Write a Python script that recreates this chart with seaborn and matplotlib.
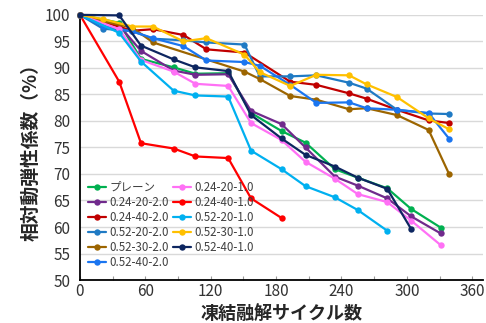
import matplotlib
matplotlib.use("Agg")
import matplotlib.pyplot as plt
import pandas as pd
import seaborn as sns
from matplotlib.ticker import MultipleLocator

# Series names (legend order) and line colours
series_names = ["プレーン", "0.24-20-2.0", "0.24-40-2.0", "0.52-20-2.0", "0.52-30-2.0",
                "0.52-40-2.0", "0.24-20-1.0", "0.24-40-1.0", "0.52-20-1.0",
                "0.52-30-1.0", "0.52-40-1.0"]
series_colors = ["#00B050", "#702A8C", "#C00000", "#1F7AC4", "#9C6500",
                 "#1A75F0", "#FF70F5", "#FF0000", "#00B0F0", "#FFC000", "#0D2660"]

# Freeze-thaw cycles and relative dynamic modulus (%) for each mix
cyc_plain = [0, 36, 56, 86, 106, 136, 157, 185, 207, 234, 255, 282, 304, 331]
val_plain = [100, 98.5, 91.7, 90.1, 88.9, 89.0, 81.5, 78.1, 75.9, 70.9, 69.3, 67.3, 63.4, 59.9]

cyc_024_20_20 = [0, 36, 56, 86, 106, 136, 157, 185, 207, 234, 255, 282, 304, 331]
val_024_20_20 = [100, 98.0, 93.2, 89.5, 88.7, 88.8, 81.9, 79.4, 75.0, 69.5, 67.8, 65.4, 62.0, 58.8]

cyc_024_40_20 = [0, 21, 48, 67, 95, 116, 151, 193, 217, 247, 263, 291, 320, 339]
val_024_40_20 = [100, 98.7, 97.0, 97.3, 96.2, 93.5, 92.9, 87.4, 86.8, 85.2, 84.2, 82.1, 80.1, 79.6]

cyc_052_20_20 = [0, 21, 48, 67, 95, 116, 151, 165, 193, 217, 247, 263, 291, 320, 339]
val_052_20_20 = [100, 97.4, 96.9, 95.5, 95.2, 94.8, 94.4, 88.4, 88.4, 88.6, 87.2, 86.1, 82.1, 81.4, 81.3]

cyc_052_30_20 = [0, 21, 48, 67, 151, 165, 193, 217, 247, 263, 291, 320, 339]
val_052_30_20 = [100, 98.8, 97.6, 94.8, 89.3, 87.9, 84.7, 84.0, 82.2, 82.4, 81.1, 78.3, 69.9]

cyc_052_40_20 = [0, 21, 48, 67, 95, 116, 151, 165, 193, 217, 247, 263, 291, 320, 339]
val_052_40_20 = [100, 97.9, 96.9, 95.6, 94.1, 91.4, 91.1, 90.4, 86.8, 83.4, 83.5, 82.4, 82.1, 81.5, 76.6]

cyc_024_20_10 = [0, 36, 56, 86, 106, 136, 157, 185, 207, 234, 255, 282, 304, 331]
val_024_20_10 = [100, 97.3, 91.5, 89.3, 87.0, 86.6, 79.6, 76.4, 72.3, 69.1, 66.2, 64.7, 61.2, 56.6]

cyc_024_40_10 = [0, 36, 56, 86, 106, 136, 157, 185]
val_024_40_10 = [100, 87.4, 75.8, 74.8, 73.3, 73.0, 65.4, 61.7]

cyc_052_20_10 = [0, 36, 56, 86, 106, 136, 157, 185, 207, 234, 255, 282]
val_052_20_10 = [100, 96.6, 91.2, 85.7, 84.8, 84.6, 74.4, 70.9, 67.7, 65.6, 63.2, 59.3]

cyc_052_30_10 = [0, 21, 48, 67, 95, 116, 151, 165, 193, 217, 247, 263, 291, 320, 339]
val_052_30_10 = [100, 99.2, 97.8, 97.8, 95.0, 95.6, 92.5, 89.2, 86.6, 88.7, 88.6, 86.9, 84.5, 80.5, 78.4]

cyc_052_40_10 = [0, 36, 56, 86, 106, 136, 157, 185, 207, 234, 255, 282, 304]
val_052_40_10 = [100, 99.9, 94.2, 91.6, 90.1, 89.4, 81.1, 76.7, 73.6, 71.4, 69.3, 67.2, 59.6]

x_ticks = [0, 60, 120, 180, 240, 300, 360]
y_ticks = [50, 55, 60, 65, 70, 75, 80, 85, 90, 95, 100]

series_data = [
    (cyc_plain, val_plain), (cyc_024_20_20, val_024_20_20), (cyc_024_40_20, val_024_40_20),
    (cyc_052_20_20, val_052_20_20), (cyc_052_30_20, val_052_30_20), (cyc_052_40_20, val_052_40_20),
    (cyc_024_20_10, val_024_20_10), (cyc_024_40_10, val_024_40_10), (cyc_052_20_10, val_052_20_10),
    (cyc_052_30_10, val_052_30_10), (cyc_052_40_10, val_052_40_10),
]

rows = []
for name, (cyc, val) in zip(series_names, series_data):
    for c, v in zip(cyc, val):
        rows.append({"series": name, "cycle": c, "value": v})
df = pd.DataFrame(rows)

sns.set_theme(style="white")
plt.rcParams["font.family"] = ["Noto Sans CJK JP", "DejaVu Sans"]

fig = plt.figure(figsize=(4.86, 3.23), dpi=100)
ax = fig.add_axes([0.1646, 0.133, 0.8294, 0.821])

sns.lineplot(data=df, x="cycle", y="value", hue="series", hue_order=series_names,
             palette=series_colors, marker="o", markersize=4.6, markeredgewidth=0,
             linewidth=1.6, sort=False, estimator=None, units="series", ax=ax,
             clip_on=False, zorder=3)

ax.set_xlim(0, 370)
ax.set_ylim(50, 100)
ax.set_xticks(x_ticks)
ax.set_yticks(y_ticks)
ax.xaxis.set_minor_locator(MultipleLocator(30))
ax.yaxis.grid(True, color="#d9d9d9", linewidth=1.0, zorder=0)
ax.xaxis.grid(False)
ax.set_axisbelow(True)

for side in ["top", "right"]:
    ax.spines[side].set_visible(False)
for side in ["left", "bottom"]:
    ax.spines[side].set_color("black")
    ax.spines[side].set_linewidth(1.3)

ax.tick_params(axis="x", which="both", direction="in", length=3, width=0.8,
               color="#999999", labelsize=11, pad=2, labelcolor="#333333", bottom=True)
ax.tick_params(axis="y", length=0, labelsize=11, pad=7, labelcolor="#333333")

ax.set_xlabel("凍結融解サイクル数", fontsize=13, fontweight="bold", labelpad=4)
ax.set_ylabel("相対動弾性係数（%）", fontsize=13.5, fontweight="bold", labelpad=3)

handles, labels = ax.get_legend_handles_labels()
ax.legend(handles, labels, ncol=2, loc="upper left", bbox_to_anchor=(0.005, 0.395),
          frameon=False, fontsize=8.3, handlelength=1.6, labelspacing=0.18,
          columnspacing=0.3, handletextpad=0.3, borderpad=0, labelcolor="#404040")

fig.savefig("out.png", dpi=100)
